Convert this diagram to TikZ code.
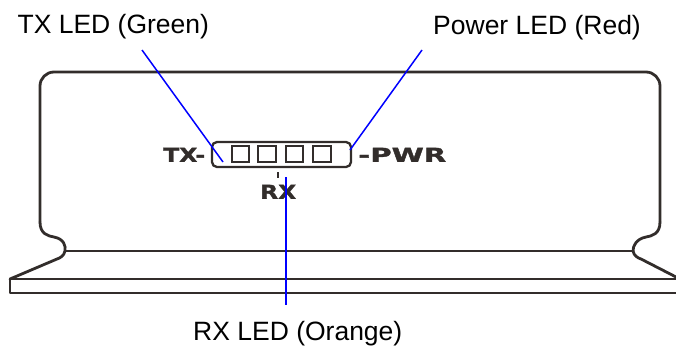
\documentclass[tikz,border=0pt]{standalone}
\usepackage{fontspec}
\usepackage{graphicx}
\setmainfont{Liberation Sans}
\newfontfamily\ledfont[FakeBold=1.5]{DejaVu Sans Bold}
\definecolor{outl}{RGB}{50,45,43}
\begin{document}
\begin{tikzpicture}[x=1pt,y=-1pt,
  outline/.style={draw=outl, line width=2.8pt, line join=round, line cap=round},
  panel/.style={draw=outl, line width=2.3pt},
  leader/.style={draw=blue, line width=1.5pt},
  lbl/.style={font=\fontsize{26.5}{30}\selectfont, inner sep=0pt, anchor=base west, text=black},
  ledtxt/.style={inner sep=0pt, anchor=south west, text=outl}]
\useasboundingbox (0,0) rectangle (676,349);
% housing
\draw[outline, rounded corners=14pt] (40,222) -- (40,72) -- (660,72) -- (660,222);
\draw[outline] (660,222)
  .. controls (660,234) and (652,236) .. (646,237)
  .. controls (636,239) and (633,246) .. (633,251)
  .. controls (634,256) and (638,258) .. (641,259) -- (678,278);
\draw[outline] (40,222)
  .. controls (40,234) and (48,236) .. (54,237)
  .. controls (64,239) and (66,246) .. (65,251)
  .. controls (64,256) and (60,258) .. (57,259) -- (10,279);
\draw[outline] (65,251) -- (633,251);
\draw[outline, line cap=butt] (680,279) -- (10,279) -- (10,293) -- (680,293);
% LED panel
\draw[panel, rounded corners=5pt] (212,142) rectangle (351,167);
\draw[panel] (232,146) rectangle (249,162);
\draw[panel] (258,146) rectangle (276,162);
\draw[panel] (286,146) rectangle (303,162);
\draw[panel] (313,146) rectangle (331,162);
\draw[outl, line width=1.8pt] (278,172) -- (278,178);
\node[ledtxt] (tx) at (163,162) {\resizebox{42pt}{14pt}{\ledfont TX-}};
\node[ledtxt] (pwr) at (358,162) {\resizebox{88pt}{14pt}{\ledfont -PWR}};
\node[ledtxt] (rx) at (260,199) {\resizebox{36pt}{14pt}{\ledfont RX}};
% labels
\node[lbl] (ltx) at (17.4,33) {TX LED (Green)};
\node[lbl] (lpwr) at (433,34) {Power LED (Red)};
\node[lbl] (lrx) at (193,340) {RX LED (Orange)};
% leader lines
\coordinate (txa) at (142,50);
\coordinate (txb) at (223,162);
\coordinate (pwa) at (422,50);
\coordinate (pwb) at (350,150);
\coordinate (rxa) at (286,177);
\coordinate (rxb) at (286,305);
\draw[leader] (txa) -- (txb);
\draw[leader] (pwa) -- (pwb);
\draw[leader] (rxa) -- (rxb);
\end{tikzpicture}
\end{document}
